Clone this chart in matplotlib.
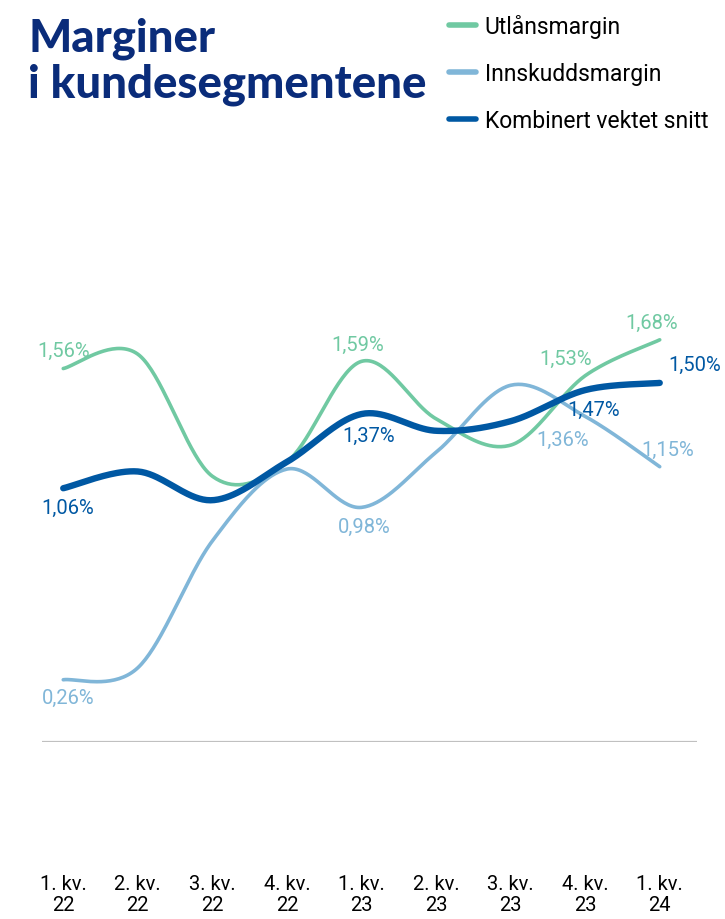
import numpy as np
import matplotlib.pyplot as plt

# Marginer i kundesegmentene (%), per kvartal
quarters = ["1. kv.\n22", "2. kv.\n22", "3. kv.\n22", "4. kv.\n22", "1. kv.\n23",
            "2. kv.\n23", "3. kv.\n23", "4. kv.\n23", "1. kv.\n24"]
utlan = [1.56, 1.62, 1.11, 1.17, 1.59, 1.35, 1.24, 1.53, 1.68]
innskudd = [0.26, 0.31, 0.84, 1.14, 0.98, 1.21, 1.49, 1.36, 1.15]
kombinert = [1.06, 1.13, 1.01, 1.17, 1.37, 1.30, 1.34, 1.47, 1.50]

# which points get a value label: (series index, offset in pixels)
utlan_labels = {0: (0, 18), 4: (-4, 17), 7: (-20, 17), 8: (-8, 17)}
innskudd_labels = {0: (5, -18), 4: (3, -19), 7: (-23, -23), 8: (8, 17)}
kombinert_labels = {0: (4, -19), 4: (7, -21), 7: (8, -19), 8: (35, 18)}

c_utlan = "#70c9a2"
c_inn = "#80b6d8"
c_komb = "#0058a3"
navy = "#0a2c7a"
body_font = "Roboto"


def smooth(y, n=40):
    # catmull-rom style smoothing, similar to Excel smoothed lines
    x = np.arange(len(y), dtype=float)
    y = np.asarray(y, dtype=float)
    px = np.concatenate([[x[0]], x, [x[-1]]])
    py = np.concatenate([[y[0]], y, [y[-1]]])
    xs, ys = [], []
    t = np.linspace(0, 1, n)
    for i in range(1, len(px) - 2):
        p0 = np.array([px[i], py[i]])
        p3 = np.array([px[i + 1], py[i + 1]])
        p1 = p0 + (np.array([px[i + 1], py[i + 1]]) - np.array([px[i - 1], py[i - 1]])) / 6
        p2 = p3 - (np.array([px[i + 2], py[i + 2]]) - np.array([px[i], py[i]])) / 6
        b = ((1 - t) ** 3)[:, None] * p0 + (3 * (1 - t) ** 2 * t)[:, None] * p1 \
            + (3 * (1 - t) * t ** 2)[:, None] * p2 + (t ** 3)[:, None] * p3
        xs.append(b[:, 0])
        ys.append(b[:, 1])
    return np.concatenate(xs), np.concatenate(ys)


fig = plt.figure(figsize=(7.25, 9.2), dpi=100)
ax = fig.add_axes([42 / 725, (920 - 743) / 920, (697 - 42) / 725, (743 - 300) / 920])
ax.set_xlim(-0.285, 8.5)
ax.set_ylim(0, 443 / 239.4)

x = np.arange(len(quarters))
sx, sy = smooth(utlan)
ax.plot(sx, sy, color=c_utlan, lw=2.6, solid_capstyle="round", label="Utlånsmargin", zorder=3)
sx, sy = smooth(innskudd)
ax.plot(sx, sy, color=c_inn, lw=2.6, solid_capstyle="round", label="Innskuddsmargin", zorder=2)
sx, sy = smooth(kombinert)
ax.plot(sx, sy, color=c_komb, lw=4.6, solid_capstyle="round", label="Kombinert vektet snitt", zorder=4)

lab_font = dict(family=body_font, fontsize=14.5, ha="center", va="center")
for vals, labs, col in [(utlan, utlan_labels, c_utlan), (innskudd, innskudd_labels, c_inn),
                        (kombinert, kombinert_labels, c_komb)]:
    for i, off in labs.items():
        ax.annotate(f"{vals[i]:.2f}%".replace(".", ","), (x[i], vals[i]), xytext=off,
                    textcoords="offset pixels", color=col, zorder=5, **lab_font)

ax.axhline(0, color="#c0c0c0", lw=1.6, zorder=1)
for s in ax.spines.values():
    s.set_visible(False)
ax.set_yticks([])
ax.set_xticks(x)
ax.set_xticklabels(quarters, family=body_font, fontsize=14.5, linespacing=1.15)
ax.tick_params(axis="x", length=0, pad=95)

fig.text(28 / 725, 1 - 39 / 920, "Marginer", fontsize=32.8, fontweight="black", family="Lato",
         color=navy, va="center", ha="left")
fig.text(28 / 725, 1 - 85 / 920, "i kundesegmentene", fontsize=32.8, fontweight="black", family="Lato",
         color=navy, va="center", ha="left")

fig.legend(loc="upper left", bbox_to_anchor=(440 / 725, 1 - 6 / 920), frameon=False,
           prop={"family": body_font, "size": 16.5}, handlelength=1.15,
           handletextpad=0.4, labelspacing=1.05, borderaxespad=0)
for line in fig.legends[0].get_lines():
    line.set_linewidth(4)
for t in fig.legends[0].get_texts():
    t.set_color("black")

fig.savefig("out.png", dpi=100)
